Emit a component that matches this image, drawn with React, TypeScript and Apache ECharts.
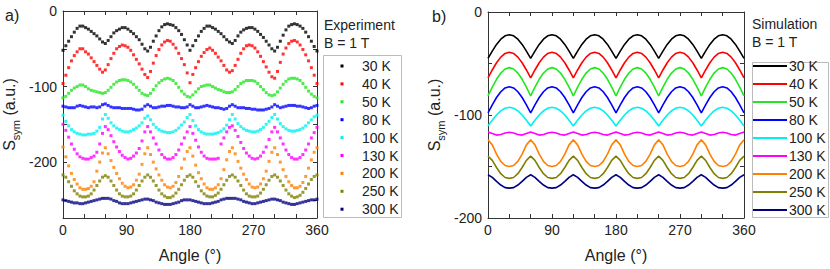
import React, { useEffect, useRef } from "react";
import * as echarts from "echarts";

const FONT = "'Liberation Sans', Arial, sans-serif";

const tempLabels = ["30 K", "40 K", "50 K", "80 K", "100 K", "130 K", "200 K", "250 K", "300 K"];
const colors = ["#000000", "#ff0000", "#22e622", "#0000ff", "#00f0f0", "#ff00ff", "#ff8000", "#808000", "#000080"];

const expAngles = [0, 4, 8, 12, 16, 20, 24, 28, 32, 36, 40, 44, 48, 52, 56, 60, 64, 68, 72, 76, 80, 84, 88, 92, 96, 100, 104, 108, 112, 116, 120, 124, 128, 132, 136, 140, 144, 148, 152, 156, 160, 164, 168, 172, 176, 180, 184, 188, 192, 196, 200, 204, 208, 212, 216, 220, 224, 228, 232, 236, 240, 244, 248, 252, 256, 260, 264, 268, 272, 276, 280, 284, 288, 292, 296, 300, 304, 308, 312, 316, 320, 324, 328, 332, 336, 340, 344, 348, 352, 356, 360];

const exp30K = [-52, -46, -40, -34, -28, -23, -20, -20, -22, -24, -27, -30, -33, -37, -41, -43, -39, -34, -29, -26, -24, -22, -22, -24, -27, -30, -34, -38, -44, -50, -53, -48, -40, -33, -26, -21, -18, -17, -18, -19, -22, -26, -31, -38, -45, -52, -46, -39, -33, -27, -23, -20, -20, -22, -24, -27, -30, -34, -38, -41, -43, -39, -33, -28, -25, -23, -22, -22, -24, -27, -31, -35, -40, -45, -50, -53, -48, -40, -32, -25, -20, -18, -17, -18, -20, -23, -28, -34, -40, -47, -53];
const exp40K = [-96, -85, -75, -66, -59, -54, -50, -50, -54, -57, -62, -67, -72, -77, -81, -78, -71, -63, -56, -50, -47, -45, -46, -48, -52, -58, -64, -70, -77, -84, -88, -80, -69, -59, -51, -45, -41, -39, -40, -44, -49, -56, -63, -71, -82, -95, -84, -75, -67, -60, -55, -51, -49, -52, -56, -61, -66, -72, -78, -81, -79, -72, -64, -56, -50, -46, -45, -46, -49, -54, -60, -67, -74, -81, -87, -89, -80, -68, -57, -49, -43, -40, -39, -41, -45, -51, -58, -66, -75, -85, -96];
const exp50K = [-115, -113, -109, -105, -102, -100, -98, -98, -100, -103, -105, -106, -107, -108, -109, -108, -105, -101, -97, -94, -92, -91, -91, -92, -94, -97, -101, -105, -109, -111, -112, -109, -104, -99, -95, -92, -90, -89, -90, -92, -96, -101, -106, -110, -113, -114, -111, -107, -103, -100, -99, -98, -98, -100, -102, -104, -105, -107, -108, -108, -107, -104, -100, -96, -94, -92, -92, -92, -93, -96, -100, -104, -108, -111, -112, -111, -107, -102, -97, -93, -90, -89, -89, -90, -92, -96, -101, -106, -110, -113, -115];
const exp80K = [-126, -127, -128, -128, -128, -126, -125, -126, -127, -128, -127, -127, -128, -127, -124, -123, -125, -127, -128, -128, -128, -129, -129, -129, -129, -130, -131, -131, -130, -126, -124, -126, -128, -128, -127, -126, -126, -125, -125, -126, -127, -127, -128, -128, -127, -124, -126, -128, -128, -127, -126, -125, -126, -127, -128, -128, -129, -130, -129, -126, -124, -126, -128, -128, -128, -129, -129, -130, -130, -131, -131, -131, -130, -129, -127, -124, -126, -128, -127, -126, -125, -125, -125, -126, -126, -127, -128, -129, -128, -126, -125];
const exp100K = [-138, -146, -152, -157, -160, -162, -163, -164, -164, -163, -163, -162, -159, -154, -143, -137, -142, -148, -152, -155, -157, -159, -160, -160, -159, -157, -155, -152, -148, -142, -139, -144, -150, -154, -157, -159, -160, -161, -161, -160, -158, -155, -151, -147, -141, -137, -145, -152, -157, -160, -162, -163, -163, -163, -162, -161, -159, -156, -151, -144, -137, -143, -149, -153, -156, -158, -159, -160, -160, -159, -157, -154, -150, -146, -141, -137, -143, -149, -153, -156, -158, -159, -159, -158, -157, -155, -152, -148, -144, -140, -138];
const exp130K = [-150, -158, -167, -176, -183, -189, -193, -195, -196, -196, -194, -192, -187, -176, -162, -153, -157, -165, -173, -180, -186, -191, -194, -196, -195, -192, -188, -182, -172, -160, -153, -160, -168, -176, -184, -190, -194, -196, -196, -194, -190, -184, -176, -168, -160, -153, -162, -171, -180, -187, -192, -195, -196, -196, -196, -195, -176, -168, -160, -154, -152, -158, -166, -174, -182, -188, -192, -195, -196, -195, -192, -187, -180, -170, -160, -154, -160, -168, -176, -184, -190, -194, -196, -196, -194, -190, -184, -176, -168, -161, -154];
const exp200K = [-180, -193, -205, -215, -223, -229, -234, -236, -236, -235, -232, -226, -212, -200, -188, -181, -189, -198, -207, -215, -222, -228, -232, -234, -233, -230, -224, -216, -203, -189, -181, -190, -200, -209, -217, -224, -230, -233, -234, -232, -227, -219, -208, -196, -186, -181, -192, -204, -214, -222, -229, -234, -236, -236, -234, -230, -222, -210, -197, -186, -181, -189, -199, -208, -216, -223, -229, -233, -234, -233, -229, -222, -212, -199, -187, -181, -190, -200, -210, -219, -226, -231, -234, -234, -232, -227, -219, -208, -197, -187, -181];
const exp250K = [-217, -220, -226, -232, -238, -242, -245, -246, -246, -245, -242, -237, -231, -225, -220, -218, -220, -225, -231, -237, -242, -245, -246, -246, -245, -242, -237, -231, -225, -220, -217, -220, -225, -231, -237, -242, -245, -247, -247, -245, -241, -236, -230, -224, -219, -217, -220, -226, -232, -238, -242, -245, -246, -246, -244, -241, -236, -230, -224, -219, -217, -220, -225, -231, -237, -242, -245, -246, -246, -245, -241, -236, -230, -224, -219, -217, -220, -225, -231, -237, -242, -245, -247, -246, -244, -240, -235, -229, -223, -219, -217];
const exp300K = [-250, -251, -252, -253, -254, -254, -255, -255, -254, -253, -252, -251, -250, -249, -248, -248, -248, -249, -251, -252, -254, -255, -255, -255, -254, -253, -252, -251, -250, -249, -249, -250, -251, -253, -254, -255, -256, -256, -256, -255, -254, -253, -251, -250, -250, -250, -251, -252, -253, -254, -255, -255, -255, -254, -253, -252, -250, -249, -248, -248, -248, -248, -249, -250, -252, -253, -254, -255, -255, -254, -253, -252, -251, -250, -249, -249, -250, -251, -253, -254, -255, -256, -256, -255, -254, -253, -252, -251, -250, -250, -249];

const simAngles = [0, 6, 12, 18, 24, 30, 36, 42, 48, 54, 60, 66, 72, 78, 84, 90, 96, 102, 108, 114, 120, 126, 132, 138, 144, 150, 156, 162, 168, 174, 180, 186, 192, 198, 204, 210, 216, 222, 228, 234, 240, 246, 252, 258, 264, 270, 276, 282, 288, 294, 300, 306, 312, 318, 324, 330, 336, 342, 348, 354, 360];

const sim30K = [-45, -38, -31.5, -26.4, -23.1, -22, -23.1, -26.4, -31.5, -38, -45, -38, -31.5, -26.4, -23.1, -22, -23.1, -26.4, -31.5, -38, -45, -38, -31.5, -26.4, -23.1, -22, -23.1, -26.4, -31.5, -38, -45, -38, -31.5, -26.4, -23.1, -22, -23.1, -26.4, -31.5, -38, -45, -38, -31.5, -26.4, -23.1, -22, -23.1, -26.4, -31.5, -38, -45, -38, -31.5, -26.4, -23.1, -22, -23.1, -26.4, -31.5, -38, -45];
const sim40K = [-64, -56.3, -49.3, -43.8, -40.2, -39, -40.2, -43.8, -49.3, -56.3, -64, -56.3, -49.3, -43.8, -40.2, -39, -40.2, -43.8, -49.3, -56.3, -64, -56.3, -49.3, -43.8, -40.2, -39, -40.2, -43.8, -49.3, -56.3, -64, -56.3, -49.3, -43.8, -40.2, -39, -40.2, -43.8, -49.3, -56.3, -64, -56.3, -49.3, -43.8, -40.2, -39, -40.2, -43.8, -49.3, -56.3, -64, -56.3, -49.3, -43.8, -40.2, -39, -40.2, -43.8, -49.3, -56.3, -64];
const sim50K = [-81.5, -73, -65.3, -59.3, -55.3, -54, -55.3, -59.3, -65.3, -73, -81.5, -73, -65.3, -59.3, -55.3, -54, -55.3, -59.3, -65.3, -73, -81.5, -73, -65.3, -59.3, -55.3, -54, -55.3, -59.3, -65.3, -73, -81.5, -73, -65.3, -59.3, -55.3, -54, -55.3, -59.3, -65.3, -73, -81.5, -73, -65.3, -59.3, -55.3, -54, -55.3, -59.3, -65.3, -73, -81.5, -73, -65.3, -59.3, -55.3, -54, -55.3, -59.3, -65.3, -73, -81.5];
const sim80K = [-98, -90.1, -83, -77.4, -73.7, -72.5, -73.7, -77.4, -83, -90.1, -98, -90.1, -83, -77.4, -73.7, -72.5, -73.7, -77.4, -83, -90.1, -98, -90.1, -83, -77.4, -73.7, -72.5, -73.7, -77.4, -83, -90.1, -98, -90.1, -83, -77.4, -73.7, -72.5, -73.7, -77.4, -83, -90.1, -98, -90.1, -83, -77.4, -73.7, -72.5, -73.7, -77.4, -83, -90.1, -98, -90.1, -83, -77.4, -73.7, -72.5, -73.7, -77.4, -83, -90.1, -98];
const sim100K = [-110.7, -105.1, -100, -96, -93.4, -92.5, -93.4, -96, -100, -105.1, -110.7, -105.1, -100, -96, -93.4, -92.5, -93.4, -96, -100, -105.1, -110.7, -105.1, -100, -96, -93.4, -92.5, -93.4, -96, -100, -105.1, -110.7, -105.1, -100, -96, -93.4, -92.5, -93.4, -96, -100, -105.1, -110.7, -105.1, -100, -96, -93.4, -92.5, -93.4, -96, -100, -105.1, -110.7, -105.1, -100, -96, -93.4, -92.5, -93.4, -96, -100, -105.1, -110.7];
const sim130K = [-116.5, -118, -119.5, -119, -117.5, -116.8, -117.5, -119, -119.5, -118, -116.5, -118, -119.5, -119, -117.5, -116.8, -117.5, -119, -119.5, -118, -116.5, -118, -119.5, -119, -117.5, -116.8, -117.5, -119, -119.5, -118, -116.5, -118, -119.5, -119, -117.5, -116.8, -117.5, -119, -119.5, -118, -116.5, -118, -119.5, -119, -117.5, -116.8, -117.5, -119, -119.5, -118, -116.5, -118, -119.5, -119, -117.5, -116.8, -117.5, -119, -119.5, -118, -116.5];
const sim200K = [-124, -129, -138, -145, -149, -150, -149, -145, -138, -129, -124, -129, -138, -145, -149, -150, -149, -145, -138, -129, -124, -129, -138, -145, -149, -150, -149, -145, -138, -129, -124, -129, -138, -145, -149, -150, -149, -145, -138, -129, -124, -129, -138, -145, -149, -150, -149, -145, -138, -129, -124, -129, -138, -145, -149, -150, -149, -145, -138, -129, -124];
const sim250K = [-140, -144, -151, -157, -160.7, -161.5, -160.7, -157, -151, -144, -140, -144, -151, -157, -160.7, -161.5, -160.7, -157, -151, -144, -140, -144, -151, -157, -160.7, -161.5, -160.7, -157, -151, -144, -140, -144, -151, -157, -160.7, -161.5, -160.7, -157, -151, -144, -140, -144, -151, -157, -160.7, -161.5, -160.7, -157, -151, -144, -140, -144, -151, -157, -160.7, -161.5, -160.7, -157, -151, -144, -140];
const sim300K = [-158, -160.5, -164.5, -168, -170.5, -171, -170.5, -168, -164.5, -160.5, -158, -160.5, -164.5, -168, -170.5, -171, -170.5, -168, -164.5, -160.5, -158, -160.5, -164.5, -168, -170.5, -171, -170.5, -168, -164.5, -160.5, -158, -160.5, -164.5, -168, -170.5, -171, -170.5, -168, -164.5, -160.5, -158, -160.5, -164.5, -168, -170.5, -171, -170.5, -168, -164.5, -160.5, -158, -160.5, -164.5, -168, -170.5, -171, -170.5, -168, -164.5, -160.5, -158];

const expSeries = [exp30K, exp40K, exp50K, exp80K, exp100K, exp130K, exp200K, exp250K, exp300K];
const simSeries = [sim30K, sim40K, sim50K, sim80K, sim100K, sim130K, sim200K, sim250K, sim300K];

const xLabelValues = [0, 90, 180, 270, 360];
const xTickValues = [0, 30, 60, 90, 120, 150, 180, 210, 240, 270, 300, 330, 360];
const yLabelValues = [0, -100, -200];
const yTickValuesA = [0, -50, -100, -150, -200, -250];
const yTickValuesB = [0, -50, -100, -150, -200];

const AXIS_COLOR = "#333";
const TEXT_COLOR = "#222";

function buildOption() {
  const axisLine = { show: true, onZero: false, lineStyle: { color: AXIS_COLOR, width: 1 } };
  const tick = (vals: number[]) => ({ show: true, inside: true, length: 4, customValues: vals, lineStyle: { color: AXIS_COLOR, width: 1 } });
  const ySub = {
    a: { fontSize: 16, lineHeight: 24, fontFamily: FONT, color: TEXT_COLOR },
    b: { fontSize: 11, lineHeight: 12, verticalAlign: "bottom", fontFamily: FONT, color: TEXT_COLOR },
  };
  const mkX = (gridIndex: number, bottom: boolean) => ({
    type: "value",
    gridIndex,
    position: bottom ? "bottom" : "top",
    min: 0,
    max: 360,
    interval: 30,
    axisLine,
    axisTick: tick(xTickValues),
    axisLabel: bottom
      ? {
          show: true,
          customValues: xLabelValues,
          formatter: (v: number) => (v % 90 === 0 ? String(v) : ""),
          fontSize: 14,
          color: TEXT_COLOR,
          fontFamily: FONT,
          margin: 5,
        }
      : { show: false },
    splitLine: { show: false },
    name: bottom ? "Angle (°)" : "",
    nameLocation: "middle",
    nameGap: 29,
    nameTextStyle: { fontSize: 16, color: TEXT_COLOR, fontFamily: FONT },
  });
  const mkY = (gridIndex: number, left: boolean, min: number, ticks: number[]) => ({
    type: "value",
    gridIndex,
    position: left ? "left" : "right",
    min,
    max: 0,
    interval: 50,
    axisLine,
    axisTick: tick(ticks),
    axisLabel: left
      ? {
          show: true,
          customValues: yLabelValues,
          formatter: (v: number) => (v % 100 === 0 ? String(v) : ""),
          fontSize: 14,
          color: TEXT_COLOR,
          fontFamily: FONT,
          margin: 6,
        }
      : { show: false },
    splitLine: { show: false },
    name: left ? "{a|S}{b|sym}{a| (a.u.)}" : "",
    nameLocation: "middle",
    nameRotate: 90,
    nameGap: 42,
    nameTextStyle: { rich: ySub },
  });

  const series: any[] = [];
  expSeries.forEach((vals, i) => {
    series.push({
      type: "scatter",
      name: "exp " + tempLabels[i],
      xAxisIndex: 0,
      yAxisIndex: 0,
      symbol: "rect",
      symbolSize: 3,
      itemStyle: { color: colors[i] },
      data: expAngles.map((a, j) => [a, vals[j]]),
    });
  });
  simSeries.forEach((vals, i) => {
    series.push({
      type: "line",
      name: "sim " + tempLabels[i],
      xAxisIndex: 2,
      yAxisIndex: 2,
      showSymbol: false,
      symbol: "none",
      lineStyle: { color: colors[i], width: 1.6 },
      data: simAngles.map((a, j) => [a, vals[j]]),
    });
  });

  const graphic: any[] = [];
  const txt = (x: number, y: number, text: string, size = 14) => ({
    type: "text",
    x,
    y,
    style: { text, fill: TEXT_COLOR, font: `${size}px ${FONT}`, textVerticalAlign: "middle", verticalAlign: "middle" },
  });
  graphic.push(txt(5, 15, "a)", 16));
  graphic.push(txt(432, 16, "b)", 16));
  // experiment legend
  graphic.push(txt(324, 25, "Experiment"));
  graphic.push(txt(324, 43, "B = 1 T"));
  graphic.push({ type: "rect", shape: { x: 323.5, y: 55.5, width: 78, height: 162 }, style: { fill: "none", stroke: "#bbbbbb", lineWidth: 1 } });
  tempLabels.forEach((lab, i) => {
    const cy = 66 + i * 17.9;
    graphic.push({ type: "rect", shape: { x: 340.5, y: cy - 1.5, width: 3, height: 3 }, style: { fill: colors[i] } });
    graphic.push(txt(362, cy, lab));
  });
  // simulation legend
  graphic.push(txt(752, 24, "Simulation"));
  graphic.push(txt(752, 42, "B = 1 T"));
  graphic.push({ type: "rect", shape: { x: 752.5, y: 62.5, width: 76, height: 155 }, style: { fill: "none", stroke: "#bbbbbb", lineWidth: 1 } });
  tempLabels.forEach((lab, i) => {
    const cy = 66 + i * 18;
    graphic.push({ type: "line", shape: { x1: 753, y1: cy, x2: 787, y2: cy }, style: { stroke: colors[i], lineWidth: 2 } });
    graphic.push(txt(789, cy, lab));
  });

  return {
    animation: false,
    backgroundColor: "#ffffff",
    textStyle: { fontFamily: FONT },
    grid: [
      { left: 61, top: 11, width: 256, height: 207 },
      { left: 488, top: 12, width: 256, height: 206 },
    ],
    xAxis: [mkX(0, true), mkX(0, false), mkX(1, true), mkX(1, false)],
    yAxis: [mkY(0, true, -274, yTickValuesA), mkY(0, false, -274, yTickValuesA), mkY(1, true, -200, yTickValuesB), mkY(1, false, -200, yTickValuesB)],
    series,
    graphic,
  };
}

export default function App() {
  const ref = useRef<HTMLDivElement>(null);
  useEffect(() => {
    if (!ref.current) return;
    const chart = echarts.init(ref.current, undefined, { renderer: "svg" });
    chart.setOption(buildOption() as any);
    return () => chart.dispose();
  }, []);
  return <div ref={ref} style={{ position: "fixed", left: 0, top: 0, width: 830, height: 269, background: "#fff" }} />;
}
